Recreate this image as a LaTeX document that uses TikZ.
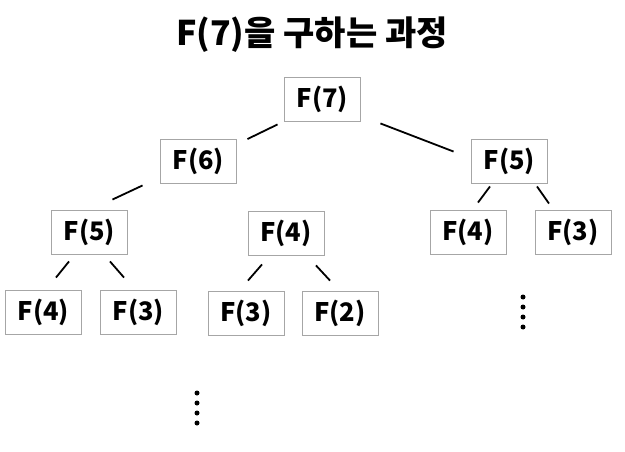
\documentclass[tikz,border=0pt]{standalone}
\usepackage{fontspec}
\setmainfont{Noto Sans CJK KR}
\usetikzlibrary{positioning}

\begin{document}
\begin{tikzpicture}[x=1pt, y=-1pt, thick,
    fbox/.style={draw=black!35, line width=0.9pt, minimum width=76pt, minimum height=44pt, inner sep=0pt, font=\fontsize{25.5}{30}\selectfont\bfseries},
    link/.style={line width=1.8pt, black},
    dot/.style={circle, fill=black, inner sep=0pt, minimum size=5pt}]
        \useasboundingbox (0,0) rectangle (625,452);

        % Title
        \node[font=\fontsize{34}{40}\selectfont\bfseries] (title) at (312,35) {F(7)을 구하는 과정};

        % Nodes
        \node[fbox] (f7) at (322.5,99) {F(7)};
        \node[fbox] (f6) at (198.5,161.5) {F(6)};
        \node[fbox] (f5r) at (509.5,161) {F(5)};
        \node[fbox] (f5l) at (89.5,232) {F(5)};
        \node[fbox] (f4m) at (286,233.5) {F(4)};
        \node[fbox] (f4r) at (468,232) {F(4)};
        \node[fbox] (f3r) at (573,232) {F(3)};
        \node[fbox] (f4l) at (43.5,312) {F(4)};
        \node[fbox] (f3l) at (138.5,312) {F(3)};
        \node[fbox] (f3m) at (246,313) {F(3)};
        \node[fbox] (f2) at (340,313) {F(2)};

        % Level 1
        \draw[link] ([xshift=-6.5pt, yshift=-3pt]f7.south west) -- ([xshift=10.5pt]f6.north east);
        \draw[link] ([xshift=19.5pt, yshift=-2pt]f7.south east) -- ([xshift=-17.5pt, yshift=-13pt]f5r.north west);

        % Level 2
        \draw[link] ([xshift=-17.5pt, yshift=-1.5pt]f6.south west) -- ([xshift=-15.5pt, yshift=10pt]f5l.north east);
        \draw[link] ([xshift=-19.5pt, yshift=-3pt]f5r.south) -- ([xshift=10pt, yshift=7pt]f4r.north);
        \draw[link] ([xshift=27.5pt, yshift=-3pt]f5r.south) -- ([xshift=-24pt, yshift=6pt]f3r.north);

        % Level 3
        \draw[link] ([xshift=-20.5pt, yshift=-7pt]f5l.south) -- ([xshift=12.5pt, yshift=12pt]f4l.north);
        \draw[link] ([xshift=20.5pt, yshift=-7pt]f5l.south) -- ([xshift=-14.5pt, yshift=12pt]f3l.north);
        \draw[link] ([xshift=-24pt, yshift=-8.5pt]f4m.south) -- ([xshift=2pt, yshift=10pt]f3m.north);
        \draw[link] ([xshift=30pt, yshift=-9.5pt]f4m.south) -- ([xshift=-10pt, yshift=10pt]f2.north);

        % Dots
        \foreach \y [count=\i] in {297,307,317,327} {
            \node[dot] (dr\i) at (523,\y) {};
        }
        \foreach \y [count=\i] in {393,403,413,423} {
            \node[dot] (db\i) at (197,\y) {};
        }

\end{tikzpicture}
\end{document}
